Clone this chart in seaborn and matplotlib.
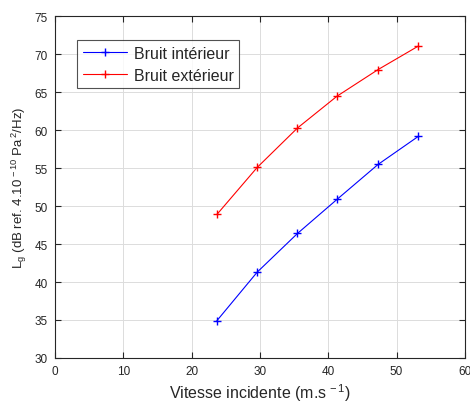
import pandas as pd
import numpy as np
import matplotlib.pyplot as plt
import seaborn as sns

# Données
vitesse = [23.7, 29.6, 35.5, 41.3, 47.3, 53.2]
bruit_interieur = [34.9, 41.3, 46.4, 50.9, 55.5, 59.2]
bruit_exterieur = [48.9, 55.1, 60.3, 64.5, 68.0, 71.1]
series = ['Bruit intérieur', 'Bruit extérieur']
couleurs = {'Bruit intérieur': 'blue', 'Bruit extérieur': 'red'}

df = pd.DataFrame({
    'Vitesse': vitesse * 2,
    'Lg': bruit_interieur + bruit_exterieur,
    'Serie': [series[0]] * len(vitesse) + [series[1]] * len(vitesse),
})

sns.set_style('ticks')
plt.rcParams['font.family'] = ['Liberation Sans', 'DejaVu Sans']
plt.rcParams['mathtext.fontset'] = 'custom'
plt.rcParams['mathtext.rm'] = 'Liberation Sans'
plt.rcParams['mathtext.it'] = 'Liberation Sans'

fig = plt.figure(figsize=(4.7, 4.06), dpi=100)
ax = fig.add_axes([0.117, 0.116, 0.872, 0.841])

sns.lineplot(data=df, x='Vitesse', y='Lg', hue='Serie', palette=couleurs,
             marker='+', markersize=5.5, markeredgewidth=1, linewidth=0.8,
             markeredgecolor=None, ax=ax, legend=True)
for line in ax.get_lines():
    line.set_markeredgecolor(line.get_color())

ax.set_xlim(0, 60)
ax.set_ylim(30, 75)
ax.set_xticks(np.arange(0, 61, 10))
ax.set_yticks(np.arange(30, 76, 5))
ax.grid(True, color='#dcdcdc', linewidth=0.7)
ax.set_axisbelow(True)
for s in ax.spines.values():
    s.set_visible(True)
    s.set_color('#262626')
    s.set_linewidth(0.8)
ax.tick_params(direction='in', top=True, right=True, labelsize=8.5,
               colors='#262626', length=4, width=0.8, pad=5)

ax.set_xlabel('Vitesse incidente (m.s$^{\\,-1}$)', fontsize=11.5, color='#262626', labelpad=3)
ax.set_ylabel('L$_g$ (dB ref. 4.10$^{\\,-10}$ Pa$^{\\,2}$/Hz)', fontsize=9.5, color='#262626')

leg = ax.legend(loc='upper left', bbox_to_anchor=(0.054, 0.931), fontsize=11.5,
                frameon=True, fancybox=False, edgecolor='#262626', borderaxespad=0,
                handlelength=2.8, borderpad=0.35, labelspacing=0.45, handletextpad=0.4)
leg.get_frame().set_linewidth(0.8)

fig.savefig('out.png', dpi=100)
